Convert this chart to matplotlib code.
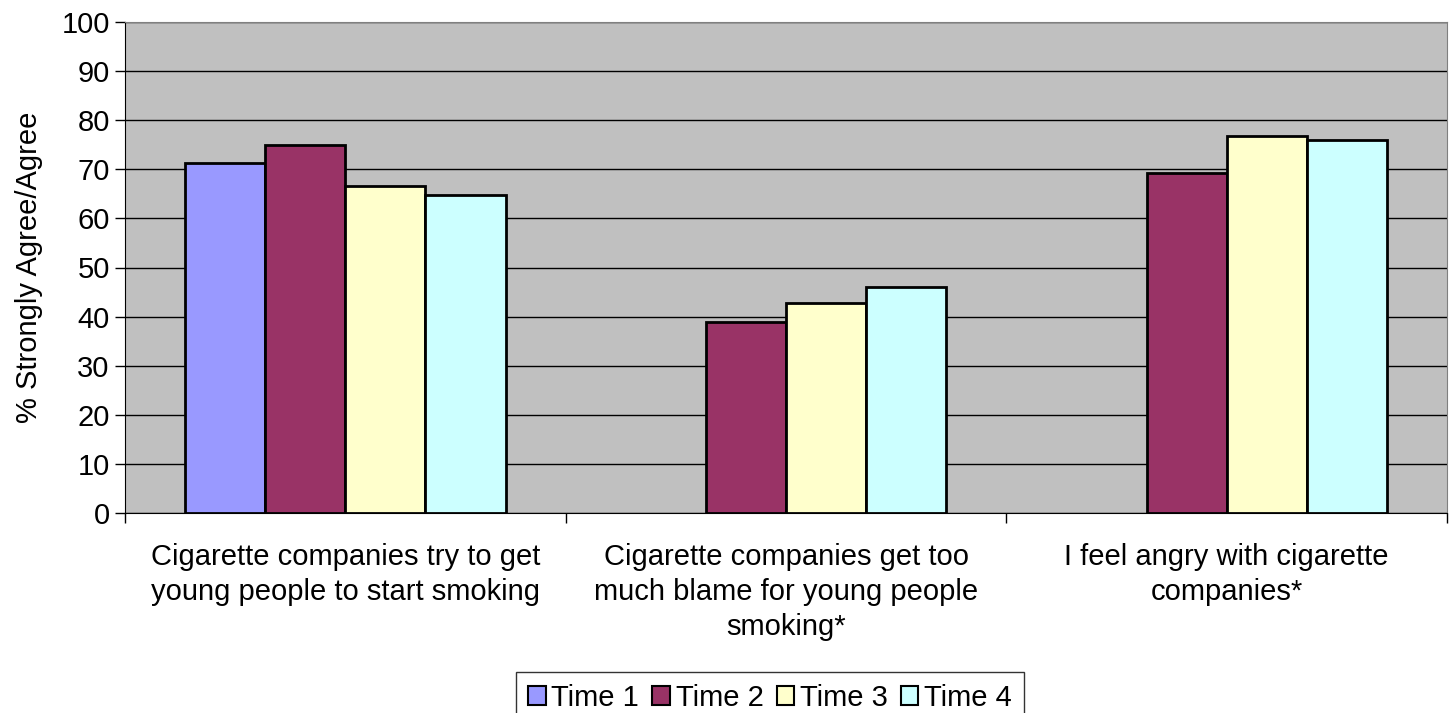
import numpy as np
import matplotlib.pyplot as plt
from matplotlib.patches import Patch

plt.rcParams['font.family'] = ['Liberation Sans', 'DejaVu Sans']

categories = ['Cigarette companies try to get\nyoung people to start smoking',
              'Cigarette companies get too\nmuch blame for young people\nsmoking*',
              'I feel angry with cigarette\ncompanies*']
series = ['Time 1', 'Time 2', 'Time 3', 'Time 4']
time1 = [71.3, np.nan, np.nan]
time2 = [74.9, 39.0, 69.2]
time3 = [66.5, 42.7, 76.8]
time4 = [64.8, 46.1, 76.0]
colors = ['#9999FF', '#993366', '#FFFFCC', '#CCFFFF']

W, H = 1454, 713
fig = plt.figure(figsize=(W/100, H/100), dpi=100)
ax = fig.add_axes([125/W, 1-513/H, (1447-125)/W, (513-22)/H])
ax.set_facecolor('#C0C0C0')

bw = 1/5.5
x = np.arange(len(categories))
for i, vals in enumerate([time1, time2, time3, time4]):
    ax.bar(x + (i - 1.5)*bw, vals, width=bw, color=colors[i],
           edgecolor='black', linewidth=2, zorder=3)

ax.set_xlim(-0.5, 2.5)
ax.set_ylim(0, 100)
ax.set_yticks(range(0, 101, 10))
ax.yaxis.grid(True, color='black', linewidth=1.0, zorder=1)
ax.tick_params(axis='y', labelsize=21, length=7, width=1, direction='out', pad=4)

ax.set_xticks([-0.5, 0.5, 1.5, 2.5])
ax.set_xticklabels([])
ax.tick_params(axis='x', length=7, width=1, direction='out')
for xi, lab in zip(x, categories):
    ax.text(xi, -6.1, lab, ha='center', va='top', fontsize=21,
            linespacing=1.33, transform=ax.transData)

ax.set_ylabel('% Strongly Agree/Agree', fontsize=21, labelpad=13)

for s in ['left', 'bottom']:
    ax.spines[s].set_color('black')
for s in ['top', 'right']:
    ax.spines[s].set_color('#808080')

handles = [Patch(facecolor=c, edgecolor='black', linewidth=1.5) for c in colors]
leg = fig.legend(handles, series, loc='upper center', bbox_to_anchor=(770/W, 1-672/H),
                 ncol=4, fontsize=21, frameon=True, fancybox=False, handlelength=0.6,
                 handleheight=0.6, handletextpad=0.2, columnspacing=0.45, borderpad=0.4,
                 borderaxespad=0)
leg.get_frame().set_edgecolor('black')
leg.get_frame().set_linewidth(1)

fig.savefig('out.png', dpi=100)
